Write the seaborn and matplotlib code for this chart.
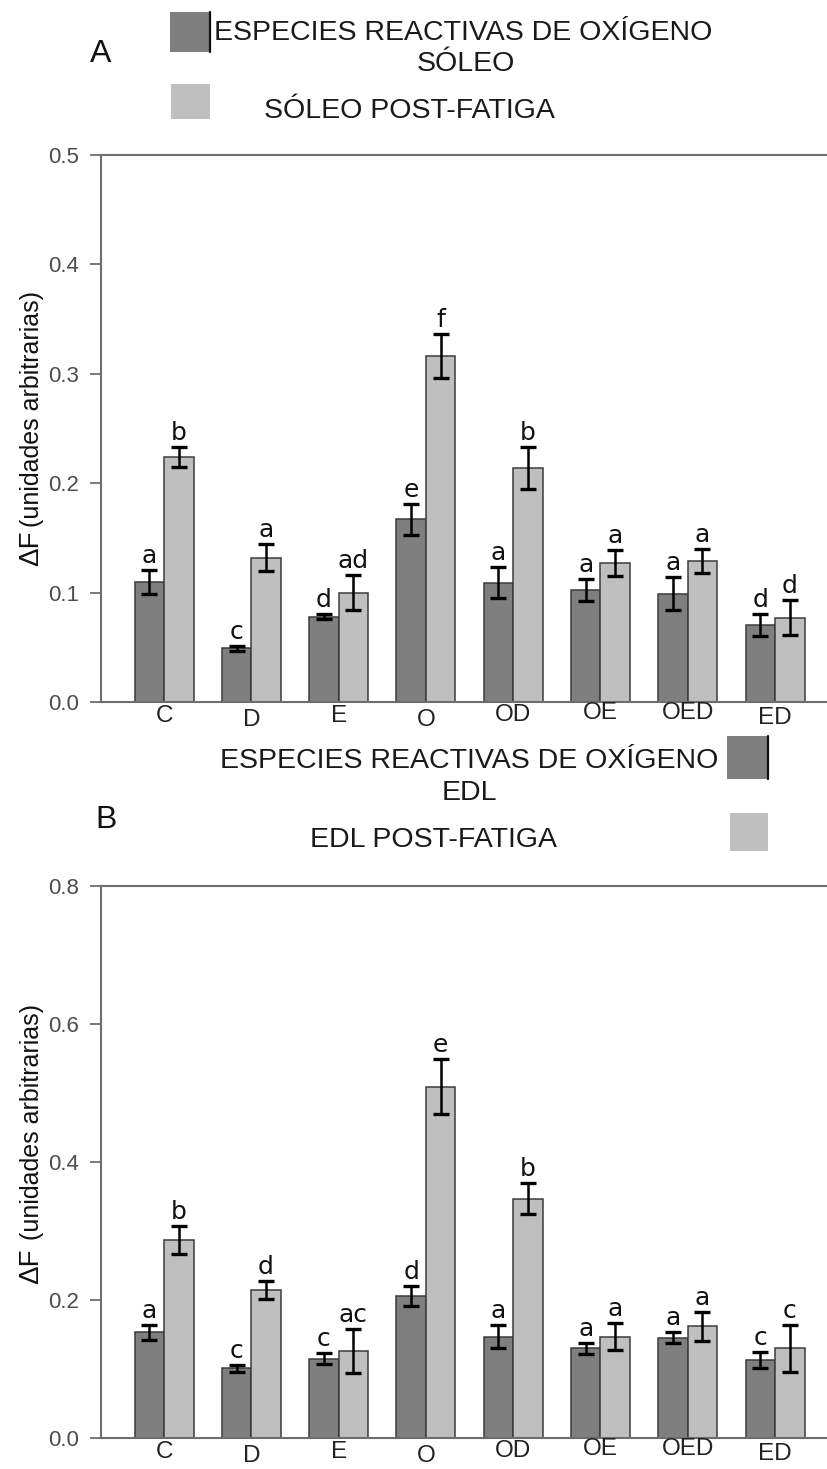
import matplotlib
matplotlib.use("Agg")
import matplotlib.pyplot as plt
from matplotlib.patches import Rectangle
from matplotlib.lines import Line2D
import numpy as np
import pandas as pd
import seaborn as sns

# ---------------- data ----------------
groups = ["C", "D", "E", "O", "OD", "OE", "OED", "ED"]

soleo_mean = [0.110, 0.049, 0.078, 0.167, 0.109, 0.102, 0.099, 0.070]
soleo_err = [0.011, 0.002, 0.002, 0.014, 0.014, 0.010, 0.015, 0.010]
soleo_post_mean = [0.224, 0.132, 0.100, 0.316, 0.214, 0.127, 0.129, 0.077]
soleo_post_err = [0.009, 0.012, 0.016, 0.020, 0.019, 0.012, 0.011, 0.016]
soleo_letters = ["a", "c", "d", "e", "a", "a", "a", "d"]
soleo_post_letters = ["b", "a", "ad", "f", "b", "a", "a", "d"]

edl_mean = [0.153, 0.101, 0.115, 0.206, 0.147, 0.130, 0.145, 0.113]
edl_err = [0.011, 0.005, 0.008, 0.014, 0.017, 0.008, 0.008, 0.012]
edl_post_mean = [0.287, 0.215, 0.126, 0.509, 0.347, 0.147, 0.162, 0.130]
edl_post_err = [0.020, 0.013, 0.032, 0.040, 0.022, 0.020, 0.021, 0.034]
edl_letters = ["a", "c", "c", "d", "a", "a", "a", "c"]
edl_post_letters = ["b", "d", "ac", "e", "b", "a", "a", "c"]

series_a = ["SÓLEO", "SÓLEO POST-FATIGA"]
series_b = ["EDL", "EDL POST-FATIGA"]
yticks_a = [0.0, 0.1, 0.2, 0.3, 0.4, 0.5]
yticks_b = [0.0, 0.2, 0.4, 0.6, 0.8]

# small vertical shifts (pixels) of the hand-placed group names
label_shift = [0, 4, 0, 4, -1, -3, -3, 2]

# ---------------- style ----------------
sns.set_theme(style="white")
SANS = ["Liberation Sans", "DejaVu Sans"]
plt.rcParams["font.family"] = SANS

DARK = "#7f7f7f"
LIGHT = "#bfbfbf"
EDGE = "#3c3c3c"
AXIS = "#6e6e6e"

W, H = 828, 1469
fig = plt.figure(figsize=(W / 100, H / 100), dpi=100)


def fx(px):
    return px / W


def fy(py):
    return 1 - py / H


def draw_panel(rect, means, errs, letters, series, ylim, yticks):
    ax = fig.add_axes(rect)
    df = pd.DataFrame({
        "grupo": groups * 2,
        "serie": [series[0]] * len(groups) + [series[1]] * len(groups),
        "valor": means[0] + means[1],
    })
    sns.barplot(data=df, x="grupo", y="valor", hue="serie", order=groups,
                hue_order=series, palette=[DARK, LIGHT], width=0.676,
                errorbar=None, edgecolor=EDGE, linewidth=1.1, legend=False,
                ax=ax)
    for cont, e_list, l_list in zip(ax.containers, errs, letters):
        xs = [p.get_x() + p.get_width() / 2 for p in cont.patches]
        hs = [p.get_height() for p in cont.patches]
        ax.errorbar(xs, hs, yerr=e_list, fmt="none", ecolor="black",
                    elinewidth=1.8, capsize=5.5, capthick=2.4, zorder=5)
        for x, h, e, lab in zip(xs, hs, e_list, l_list):
            ax.annotate(lab, (x, h + e), xytext=(0, 2),
                        textcoords="offset pixels", ha="center", va="bottom",
                        fontsize=18, family="DejaVu Sans", color="#111111")
    ax.set_xlim(-0.722, 7.607)
    ax.set_ylim(*ylim)
    ax.set_yticks(yticks)
    ax.set_yticklabels([f"{t:.1f}" for t in yticks])
    ax.set_xticks(range(len(groups)))
    ax.set_xticklabels([])
    ax.set_xlabel("")
    ax.set_ylabel("")
    for s in ["left", "bottom", "top"]:
        ax.spines[s].set_color(AXIS)
        ax.spines[s].set_linewidth(1.5)
    ax.spines["right"].set_visible(False)
    ax.tick_params(axis="y", left=True, length=8, width=1.3, color=AXIS,
                   labelsize=16, labelcolor="#4d4d4d", pad=8)
    ax.tick_params(axis="x", bottom=False)
    # group names under the bars
    for i, (g, dy) in enumerate(zip(groups, label_shift)):
        ax.annotate(g, (i, 0), xycoords=("data", "axes fraction"),
                    xytext=(0, -3 - dy), textcoords="offset pixels",
                    ha="center", va="top", fontsize=17.5, color="#222222")
    return ax


# panel A
axA = draw_panel([fx(101), fy(702), 1 - fx(101), fy(155) - fy(702)],
                 [soleo_mean, soleo_post_mean], [soleo_err, soleo_post_err],
                 [soleo_letters, soleo_post_letters], series_a, (0, 0.5), yticks_a)

# panel B
axB = draw_panel([fx(101), fy(1438), 1 - fx(101), fy(886) - fy(1438)],
                 [edl_mean, edl_post_mean], [edl_err, edl_post_err],
                 [edl_letters, edl_post_letters], series_b, (0, 0.8), yticks_b)


def ylabel(y_delta, y_text, xc, text):
    fig.text(fx(xc), fy(y_delta), "ΔF", rotation=90, ha="center",
             va="bottom", fontsize=20, color="#111111", family=SANS)
    fig.text(fx(xc + 1), fy(y_text), text, rotation=90, ha="center",
             va="bottom", fontsize=18, color="#111111", family=SANS)


ylabel(566, 527, 31, "(unidades arbitrarias)")
ylabel(1284, 1240, 31, "(unidades arbitrarias)")


def swatch(x0, y0, x1, y1, color, right_edge=False):
    fig.patches.append(Rectangle((fx(x0), fy(y1)), fx(x1) - fx(x0),
                                 fy(y0) - fy(y1), transform=fig.transFigure,
                                 facecolor=color, edgecolor="none"))
    if right_edge:
        fig.lines.append(Line2D([fx(x1), fx(x1)], [fy(y0), fy(y1)],
                                transform=fig.transFigure, color="#111111",
                                linewidth=1.6))


LEG = dict(fontsize=20.5, color="#1a1a1a", family=SANS, va="baseline")

# legend for panel A
swatch(170, 12, 210, 52, DARK, right_edge=True)
fig.text(fx(214), fy(40), "ESPECIES REACTIVAS DE OXÍGENO", ha="left", **LEG)
fig.text(fx(466), fy(71), "SÓLEO", ha="center", **LEG)
swatch(171, 84, 210, 119, LIGHT)
fig.text(fx(264), fy(118), "SÓLEO POST-FATIGA", ha="left", **LEG)
fig.text(fx(101), fy(62), "A", ha="center", va="baseline", fontsize=23,
         color="#111111", family=SANS)

# legend for panel B
fig.text(fx(718), fy(768), "ESPECIES REACTIVAS DE OXÍGENO", ha="right", **LEG)
swatch(727, 736, 768, 779, DARK, right_edge=True)
fig.text(fx(469), fy(800), "EDL", ha="center", **LEG)
swatch(730, 813, 768, 851, LIGHT)
fig.text(fx(310), fy(847), "EDL POST-FATIGA", ha="left", **LEG)
fig.text(fx(106), fy(828), "B", ha="center", va="baseline", fontsize=23,
         color="#111111", family=SANS)

fig.savefig("out.png", dpi=100)
